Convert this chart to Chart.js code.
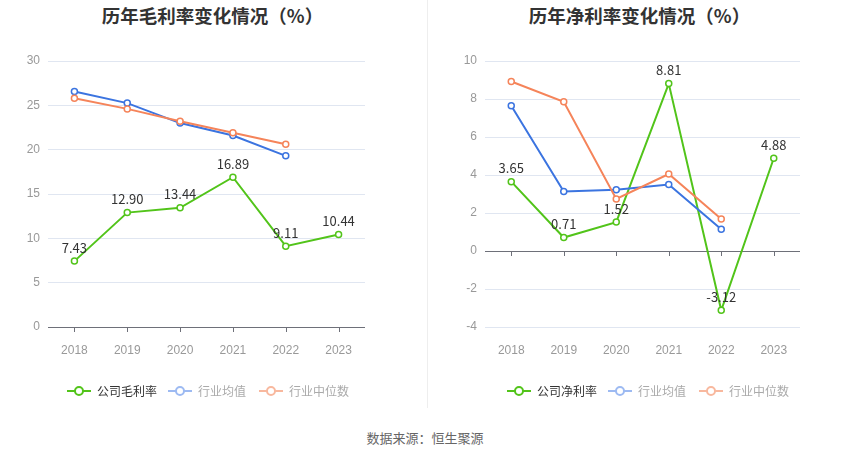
<!DOCTYPE html>
<html>
<head>
<meta charset="utf-8">
<script src="https://cdn.jsdelivr.net/npm/chart.js@4.4.0/dist/chart.umd.min.js"></script>
<style>
  body { margin: 0; background: #fff; font-family: "Noto Sans CJK SC", "Noto Sans", sans-serif; }
  #wrap { position: relative; width: 850px; height: 459px; overflow: hidden; }
  .title { position: absolute; top: 2px; font-size: 18.5px; font-weight: bold; color: #333; text-align: center; width: 425px; }
  canvas { position: absolute; top: 0; }
  .divider { position: absolute; left: 427px; top: 0; width: 1px; height: 408px; background: #eee; }
  .legend { position: absolute; top: 382px; font-size: 12px; white-space: nowrap; }
  .item { position: absolute; top: 0; height: 18px; line-height: 18px; }
  .icon { position: absolute; left: 0; top: 8px; width: 24px; height: 2px; }
  .icon::after { content: ""; position: absolute; left: 7px; top: -4px; width: 6px; height: 6px;
    border-radius: 50%; background: #fff; border: 2px solid var(--c); }
  .item span { position: absolute; left: 30px; top: 0; }
  .source { position: absolute; top: 428px; width: 850px; text-align: center; font-size: 13px; color: #666; }
</style>
</head>
<body>
<div id="wrap">
  <div class="title" style="left:0">历年毛利率变化情况（%）</div>
  <div class="title" style="left:427px">历年净利率变化情况（%）</div>
  <canvas id="grossChart" width="425" height="361" style="left:0;width:425px;height:361px"></canvas>
  <canvas id="netChart" width="425" height="361" style="left:425px;width:425px;height:361px"></canvas>
  <div class="divider"></div>
  <div class="legend" id="legendLeft" style="left:67px"></div>
  <div class="legend" id="legendRight" style="left:507px"></div>
  <div class="source">数据来源：恒生聚源</div>
</div>
<script>
// ========= Data =========
const years = ["2018", "2019", "2020", "2021", "2022", "2023"];

const grossCompany = [7.43, 12.90, 13.44, 16.89, 9.11, 10.44];
const grossIndustryAvg = [26.55, 25.25, 23.0, 21.6, 19.3, null];
const grossIndustryMedian = [25.8, 24.6, 23.2, 21.9, 20.6, null];

const netCompany = [3.65, 0.71, 1.52, 8.81, -3.12, 4.88];
const netIndustryAvg = [7.64, 3.13, 3.23, 3.5, 1.14, null];
const netIndustryMedian = [8.92, 7.85, 2.74, 4.05, 1.69, null];

const grossTicks = { min: 0, max: 30, step: 5 };
const netTicks = { min: -4, max: 10, step: 2 };

/* ========= Colours ========= */
const GREEN = "#52c41a";
const BLUE = "#3b74e0";
const ORANGE = "#f5845a";
const BLUE_FADED = "#9dbaf2";
const ORANGE_FADED = "#f8b89e";

/* ========= Plugins ========= */
// value labels above the company series
const valueLabels = {
  id: "valueLabels",
  afterDatasetsDraw(chart) {
    const ctx = chart.ctx;
    chart.data.datasets.forEach((ds, i) => {
      if (!ds.showLabels) return;
      const meta = chart.getDatasetMeta(i);
      ctx.save();
      ctx.font = "13px 'Noto Sans CJK SC', sans-serif";
      ctx.fillStyle = "#333";
      ctx.textAlign = "center";
      ctx.textBaseline = "bottom";
      meta.data.forEach((pt, j) => {
        const v = ds.data[j];
        if (v == null) return;
        ctx.fillText(v.toFixed(2), pt.x, pt.y - 7);
      });
      ctx.restore();
    });
  }
};

// category axis line + ticks drawn on the zero line
const zeroAxis = {
  id: "zeroAxis",
  beforeDatasetsDraw(chart) {
    const { ctx, scales: { x, y }, chartArea } = chart;
    const y0 = y.getPixelForValue(0);
    ctx.save();
    ctx.strokeStyle = "#6e7079";
    ctx.lineWidth = 1;
    ctx.beginPath();
    ctx.moveTo(chartArea.left, Math.round(y0) + 0.5);
    ctx.lineTo(chartArea.right, Math.round(y0) + 0.5);
    years.forEach((_, i) => {
      const px = Math.round(x.getPixelForValue(i)) + 0.5;
      ctx.moveTo(px, y0);
      ctx.lineTo(px, y0 + 5);
    });
    ctx.stroke();
    ctx.restore();
  }
};

/* ========= Charts ========= */
function series(label, data, color, showLabels) {
  return {
    label, data, showLabels,
    borderColor: color,
    backgroundColor: "#fff",
    borderWidth: 2,
    pointRadius: 3,
    pointBorderWidth: 1.5,
    pointBackgroundColor: "#fff",
    pointBorderColor: color,
    tension: 0,
    spanGaps: false
  };
}

function lineChart(id, datasets, ticks, yWidth, padRight) {
  const ctx = document.getElementById(id).getContext("2d");
  new Chart(ctx, {
    type: "line",
    data: { labels: years, datasets },
    options: {
      responsive: false,
      animation: false,
      layout: { padding: { top: 61, right: padRight, left: 0, bottom: 0 } },
      plugins: { legend: { display: false }, tooltip: { enabled: false } },
      scales: {
        x: {
          offset: true,
          grid: { display: false },
          border: { display: false },
          ticks: { color: "#999", font: { size: 12 }, padding: 8 },
          afterFit: (s) => { s.height = 34; }
        },
        y: {
          min: ticks.min,
          max: ticks.max,
          ticks: { stepSize: ticks.step, color: "#999", font: { size: 12 }, padding: 8 },
          grid: { color: "#e0e6f1", drawTicks: false },
          border: { display: false },
          afterFit: (s) => { s.width = yWidth; }
        }
      }
    },
    plugins: [zeroAxis, valueLabels]
  });
}

/* ========= Legends ========= */
function legend(elId, items) {
  const el = document.getElementById(elId);
  const offsets = [0, 101, 192];
  items.forEach(([text, iconColor, textColor], i) => {
    const d = document.createElement("div");
    d.className = "item";
    d.style.left = offsets[i] + "px";
    d.innerHTML = `<div class="icon" style="background:${iconColor};--c:${iconColor}"></div><span style="color:${textColor}">${text}</span>`;
    el.appendChild(d);
  });
}

/* ========= Init ========= */
lineChart("grossChart", [
  series("行业中位数", grossIndustryMedian, ORANGE, false),
  series("行业均值", grossIndustryAvg, BLUE, false),
  series("公司毛利率", grossCompany, GREEN, true)
], grossTicks, 48, 60);

lineChart("netChart", [
  series("行业中位数", netIndustryMedian, ORANGE, false),
  series("行业均值", netIndustryAvg, BLUE, false),
  series("公司净利率", netCompany, GREEN, true)
], netTicks, 60, 50);

legend("legendLeft", [
  ["公司毛利率", GREEN, "#333"],
  ["行业均值", BLUE_FADED, "#aaa"],
  ["行业中位数", ORANGE_FADED, "#aaa"]
]);
legend("legendRight", [
  ["公司净利率", GREEN, "#333"],
  ["行业均值", BLUE_FADED, "#aaa"],
  ["行业中位数", ORANGE_FADED, "#aaa"]
]);
</script>
</body>
</html>
